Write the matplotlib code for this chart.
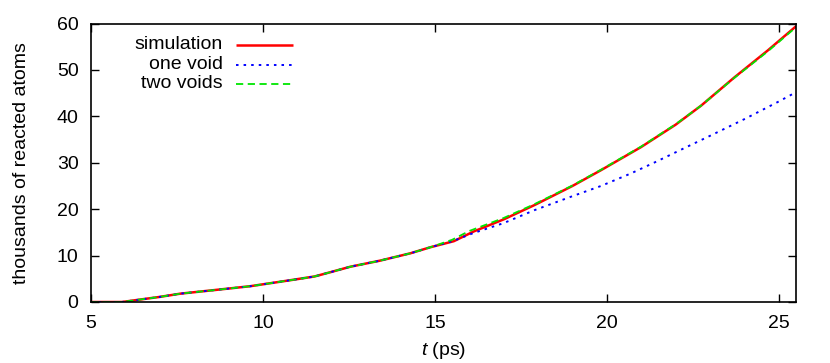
import matplotlib
matplotlib.use("Agg")
import matplotlib.pyplot as plt
from matplotlib.lines import Line2D

plt.rcParams['font.family'] = ['Liberation Sans', 'DejaVu Sans']
plt.rcParams['mathtext.fontset'] = 'custom'
plt.rcParams['mathtext.it'] = 'Liberation Sans:italic'

# simulation
t_sim = [5.0, 5.9, 6.5, 7.0, 7.6, 8.5, 9.63, 10.8, 11.5, 12.0, 12.54, 13.4, 14.29, 14.87,
         15.55, 16.13, 17.0, 17.9, 19.0, 19.83, 21.0, 22.0, 22.74, 23.71, 24.68, 25.5]
y_sim = [0.0, 0.0, 0.6, 1.1, 1.8, 2.5, 3.4, 4.7, 5.5, 6.5, 7.6, 8.9, 10.5, 11.8,
         13.1, 15.2, 17.8, 20.9, 25.0, 28.4, 33.4, 38.2, 42.3, 48.4, 54.2, 59.4]
# one void model
t_one = [5.0, 5.9, 6.5, 7.0, 7.6, 8.5, 9.63, 10.8, 11.5, 12.0, 12.54, 13.4, 14.29, 14.87,
         15.55, 16.1, 17.0, 17.9, 19.0, 19.83, 20.7, 21.37, 22.35, 23.0, 24.0, 25.0, 25.5]
y_one = [0.0, 0.0, 0.6, 1.1, 1.8, 2.5, 3.4, 4.7, 5.5, 6.5, 7.6, 8.9, 10.5, 11.8,
         13.2, 14.8, 17.0, 19.8, 22.8, 25.0, 27.7, 30.0, 33.5, 35.8, 39.4, 43.2, 45.2]
# two voids model
t_two = [5.0, 5.9, 6.5, 7.0, 7.6, 8.5, 9.63, 10.8, 11.5, 12.0, 12.54, 13.4, 14.29, 14.87,
         15.5, 16.0, 17.0, 17.9, 19.0, 19.83, 21.0, 22.0, 22.74, 23.71, 24.68, 25.5]
y_two = [0.0, 0.0, 0.6, 1.1, 1.8, 2.5, 3.4, 4.7, 5.5, 6.5, 7.6, 8.9, 10.5, 11.8,
         13.4, 15.3, 18.1, 21.1, 25.1, 28.5, 33.5, 38.3, 42.3, 48.3, 54.0, 59.2]

labels = ['simulation', 'one void', 'two voids']
colors = ['#ff0000', '#0000ff', '#00e600']
widths = [1.8, 1.4, 1.3]
styles = ['-', (0, (1.3, 2.6)), (0, (4, 2.5))]

fig = plt.figure(figsize=(8.3, 3.63), dpi=100)
ax = fig.add_axes([91/830, 1-302/363, (796-91)/830, (302-23.5)/363])

series = [(t_sim, y_sim), (t_one, y_one), (t_two, y_two)]
for (tx, ty), c, w, s in zip(series, colors, widths, styles):
    ax.plot(tx, ty, color=c, lw=w, linestyle=s, solid_capstyle='butt')

ax.set_xlim(5, 25.5)
ax.set_ylim(0, 60)
ax.set_xticks([5, 10, 15, 20, 25])
ax.set_yticks([0, 10, 20, 30, 40, 50, 60])
ax.tick_params(direction='in', length=6, width=1, top=True, right=True, labelsize=14)
ax.tick_params(axis='x', pad=9)
ax.tick_params(axis='y', pad=9)
for sp in ax.spines.values():
    sp.set_linewidth(1.2)

ax.set_ylabel('thousands of reacted atoms', fontsize=14)
ax.yaxis.set_label_coords(-0.087, 0.5)
ax.set_xlabel(r'$t$ (ps)', fontsize=14)
ax.xaxis.set_label_coords(0.5, -0.138)

# key (gnuplot style: text right-aligned, sample to the right)
rows_y = [0.923, 0.851, 0.783]
for lab, c, w, s, ry in zip(labels, colors, widths, styles, rows_y):
    ax.text(0.187, ry, lab, transform=ax.transAxes, ha='right', va='center', fontsize=14)
    ax.add_line(Line2D([0.206, 0.2865], [ry, ry], transform=ax.transAxes,
                       color=c, lw=w, linestyle=s, solid_capstyle='butt'))

fig.savefig('out.png', dpi=100)
